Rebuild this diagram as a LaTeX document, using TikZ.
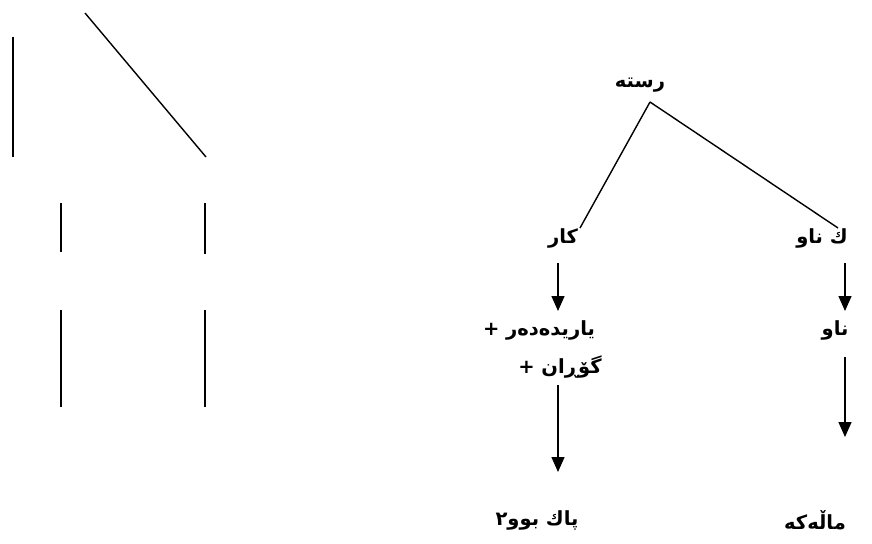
\documentclass[tikz,border=0pt]{standalone}
\usepackage{fontspec}
\TeXXeTstate=1
\newfontfamily\arabicfont[Script=Arabic]{DejaVu Sans}
\usetikzlibrary{arrows.meta}
\tikzset{
  lbl/.style={font=\arabicfont\bfseries\fontsize{19.5}{23}\selectfont, inner sep=0pt, anchor=center},
  ln/.style={line width=1.4pt},
  arr/.style={line width=1.4pt, -{Triangle[length=15pt,width=13pt]}}
}
\begin{document}
\begin{tikzpicture}[x=1pt,y=-1pt]
\useasboundingbox (0,0) rectangle (872,543);
% left lines
\draw[ln] (13,37) -- (13,157);
\draw[ln] (85,13) -- (206,157);
\draw[ln] (61,203) -- (61,252);
\draw[ln] (205,203) -- (205,254);
\draw[ln] (61,310) -- (61,407);
\draw[ln] (205,310) -- (205,407);
% right tree
\node[lbl] (root) at (640,85) {\beginR رسته\endR};
\node[lbl] (kar) at (563,238) {\beginR كار\endR};
\node[lbl] (kn) at (822,238) {\beginR ك ناو\endR};
\node[lbl] (yar) at (539,330) {+ \beginR ياريدەدەر\endR};
\node[lbl] (gor) at (560,367) {+ \beginR گۆڕان\endR};
\node[lbl] (pak) at (537,520) {\beginR پاك بوو٢\endR};
\node[lbl] (naw) at (835,330) {\beginR ناو\endR};
\node[lbl] (mal) at (815,520) {\beginR ماڵەكە\endR};
\coordinate (apex) at (650,102);
\coordinate (kartop) at (580,228);
\coordinate (kntop) at (838,228);
\draw[ln] (apex) -- (kartop);
\draw[ln] (apex) -- (kntop);
\coordinate (a1s) at (558,263); \coordinate (a1e) at (558,311);
\coordinate (a2s) at (558,385); \coordinate (a2e) at (558,472);
\coordinate (b1s) at (845,263); \coordinate (b1e) at (845,311);
\coordinate (b2s) at (845,357); \coordinate (b2e) at (845,437);
\draw[arr] (a1s) -- (a1e);
\draw[arr] (a2s) -- (a2e);
\draw[arr] (b1s) -- (b1e);
\draw[arr] (b2s) -- (b2e);
\end{tikzpicture}
\end{document}
